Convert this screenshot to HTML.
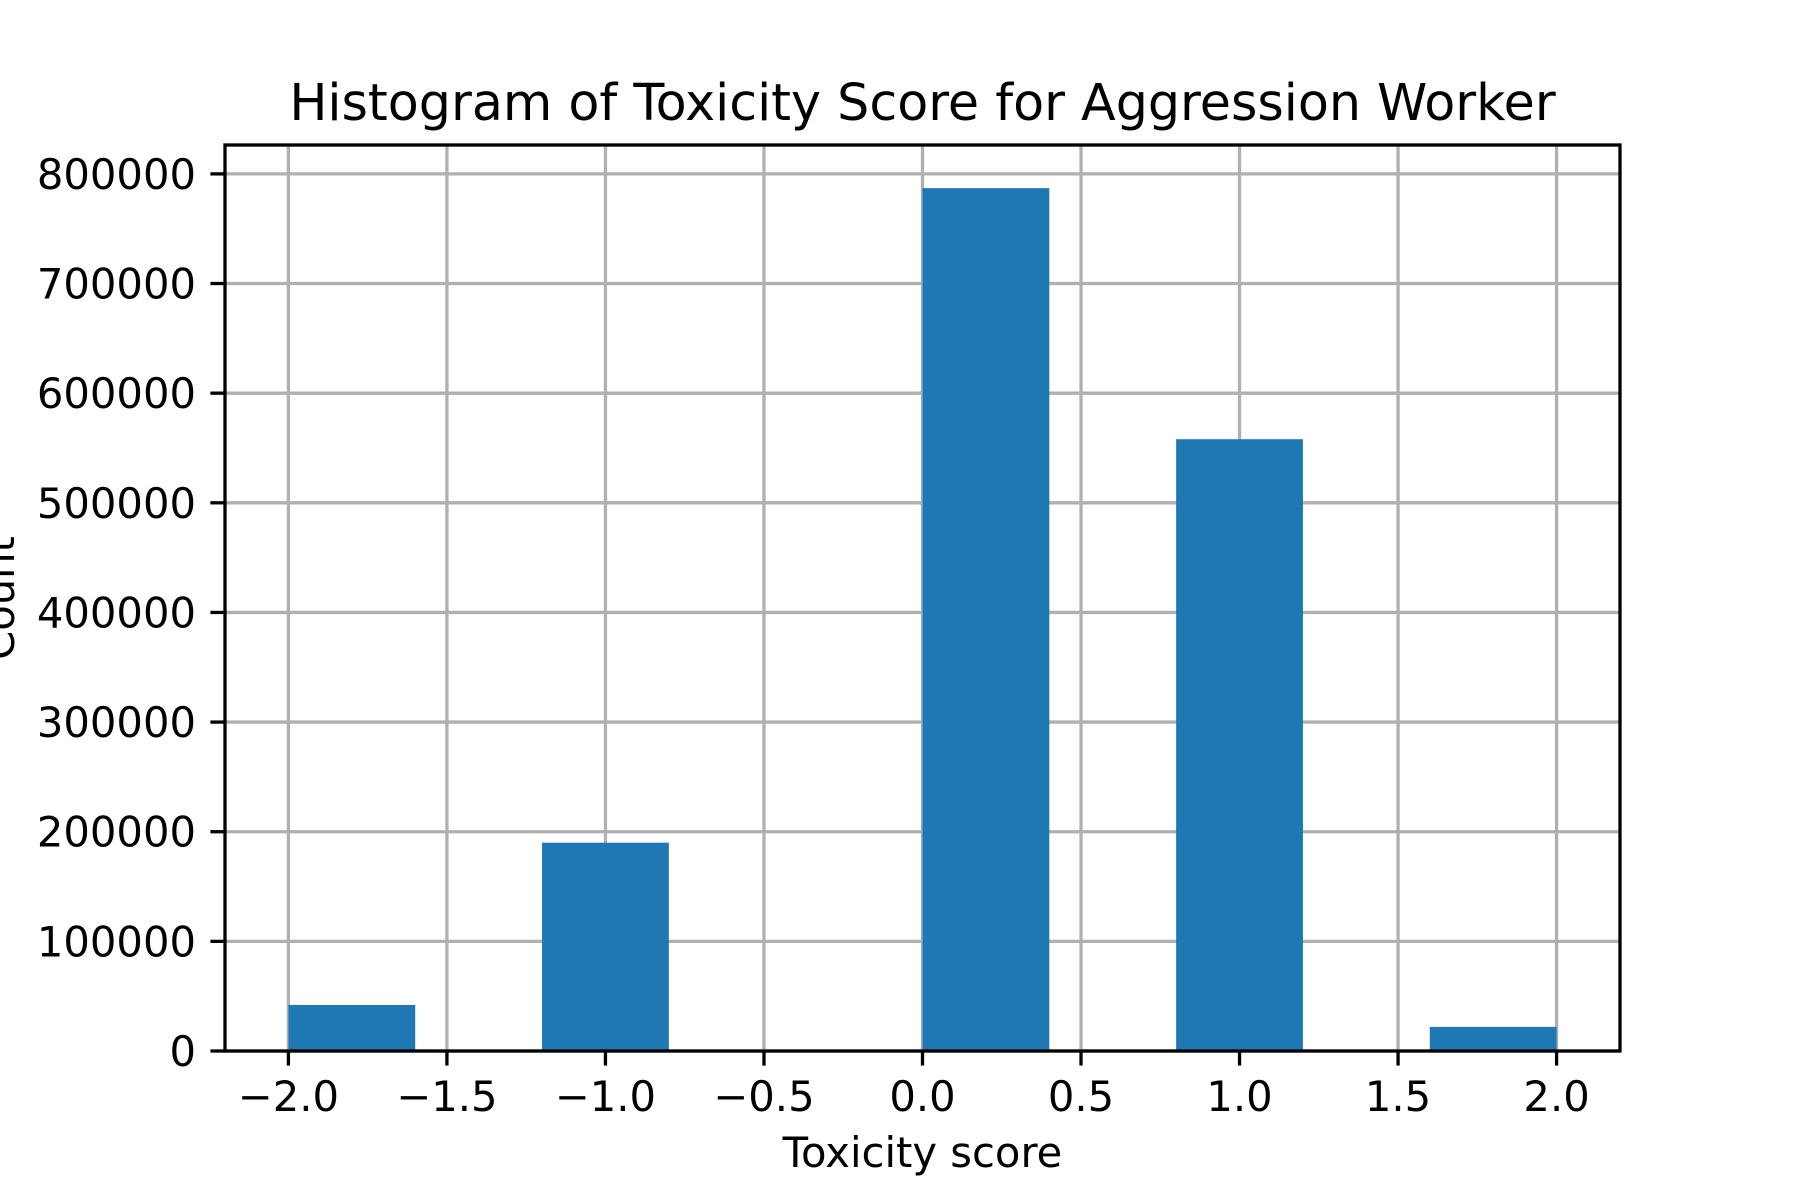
<!DOCTYPE html>
<html><head><meta charset="utf-8"><style>
html,body{margin:0;padding:0;background:#fff;}
svg{display:block;font-family:"DejaVu Sans","Liberation Sans",sans-serif;}
</style></head><body>
<svg id="chart" width="1800" height="1200" xmlns="http://www.w3.org/2000/svg">
<rect width="1800" height="1200" fill="#fff"/>
<g id="grid"></g><g id="bars"></g><g id="axes"></g>
<text x="922.5" y="120" font-size="50.7" text-anchor="middle">Histogram of Toxicity Score for Aggression Worker</text>
<text x="922.5" y="1167" font-size="41.7" text-anchor="middle">Toxicity score</text>
<text transform="translate(14,598) rotate(-90)" font-size="41.7" text-anchor="middle">Count</text>
</svg>
<script>
const binStarts=[-2.0,-1.6,-1.2,-0.8,-0.4,0.0,0.4,0.8,1.2,1.6];
const binWidth=0.4;
const counts=[42000,0,190000,0,0,787000,0,558000,0,22000];
const xTicks=[-2.0,-1.5,-1.0,-0.5,0.0,0.5,1.0,1.5,2.0];
const xTickLabels=["−2.0","−1.5","−1.0","−0.5","0.0","0.5","1.0","1.5","2.0"];
const yTicks=[0,100000,200000,300000,400000,500000,600000,700000,800000];
const yTickLabels=["0","100000","200000","300000","400000","500000","600000","700000","800000"];

const L=225,R=1620,T=145,B=1051;
const xMin=-2.2,xMax=2.2,yMax=Math.max(...counts)*1.05;
const sx=v=>L+(v-xMin)/(xMax-xMin)*(R-L);
const sy=v=>B-v/yMax*(B-T);
const NS="http://www.w3.org/2000/svg";
function mk(tag,attrs,parent){const e=document.createElementNS(NS,tag);for(const k in attrs)e.setAttribute(k,attrs[k]);parent.appendChild(e);return e;}
const grid=document.getElementById('grid'),bars=document.getElementById('bars'),axes=document.getElementById('axes');
binStarts.forEach((s,i)=>{
  if(counts[i]<=0)return;
  const r=mk('rect',{x:sx(s),y:sy(counts[i]),width:sx(s+binWidth)-sx(s),height:B-sy(counts[i]),fill:'#1f77b4'},bars);
  
  
});
xTicks.forEach((v,i)=>{
  const x=sx(v);
  const g=mk('line',{x1:x,x2:x,y1:T,y2:B,stroke:'#b0b0b0','stroke-width':3.3},grid);
  
  
  const t=mk('line',{x1:x,x2:x,y1:B,y2:B+14.6,stroke:'#000','stroke-width':3.3},axes);
  
  
  const tx=mk('text',{x:x,y:B+60,'font-size':41.7,'text-anchor':'middle'},axes);
  tx.textContent=xTickLabels[i];
  
  
});
yTicks.forEach((v,i)=>{
  const y=sy(v);
  const g=mk('line',{x1:L,x2:R,y1:y,y2:y,stroke:'#b0b0b0','stroke-width':3.3},grid);
  
  
  const t=mk('line',{x1:L-14.6,x2:L,y1:y,y2:y,stroke:'#000','stroke-width':3.3},axes);
  
  
  const tx=mk('text',{x:L-29,y:y+15,'font-size':41.7,'text-anchor':'end'},axes);
  tx.textContent=yTickLabels[i];
  
  
});
const frame=mk('rect',{x:L,y:T,width:R-L,height:B-T,fill:'none',stroke:'#000','stroke-width':3.3},axes);


</script>
</body></html>
